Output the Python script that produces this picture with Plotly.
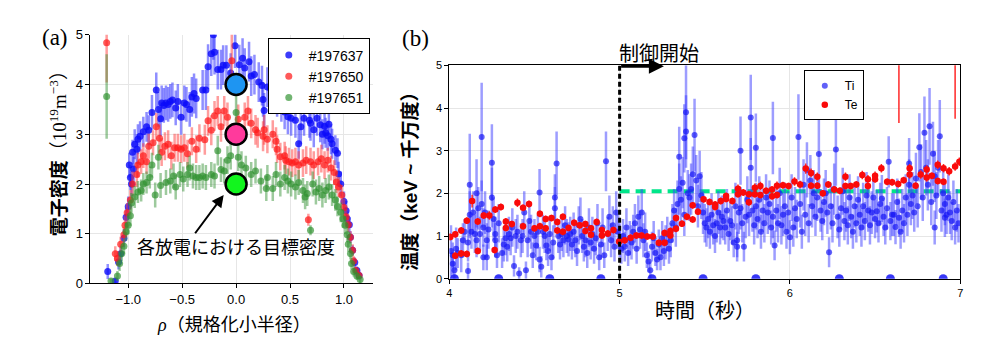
import plotly.graph_objects as go

# ---- (a) electron density profiles ----
rho_197637 = [-1.19, -1.12, -1.09, -1.07, -1.04, -1.02, -1.00, -0.99, -0.98, -0.97,
              -0.96, -0.95, -0.94, -0.92, -0.91, -0.89, -0.86, -0.83, -0.81, -0.78,
              -0.74, -0.72, -0.70, -0.69, -0.67, -0.65, -0.63, -0.61, -0.59, -0.56,
              -0.54, -0.51, -0.48, -0.46, -0.43, -0.41, -0.39, -0.37, -0.31, -0.28,
              -0.26, -0.23, -0.21, -0.20, -0.17, -0.14, -0.12, -0.09, -0.05, -0.01,
              0.03, 0.06, 0.08, 0.12, 0.14, 0.17, 0.21, 0.24, 0.25, 0.26,
              0.29, 0.32, 0.35, 0.38, 0.42, 0.45, 0.48, 0.51, 0.55, 0.58,
              0.60, 0.63, 0.68, 0.69, 0.72, 0.75, 0.78, 0.80, 0.82, 0.83,
              0.85, 0.86, 0.88, 0.89, 0.92, 0.94, 0.95, 0.97, 1.00, 1.02,
              1.03, 1.05, 1.06, 1.08, 1.10, 1.12, 1.14]
ne_197637 = [0.24, 0.05, 0.43, 0.60, 0.91, 1.33, 1.55, 2.38, 2.13, 2.00,
             2.64, 2.30, 2.80, 2.70, 2.90, 2.96, 3.05, 3.15, 3.08, 3.44,
             3.89, 3.50, 3.31, 3.63, 3.58, 3.63, 3.60, 3.66, 3.69, 3.53,
             3.66, 3.34, 3.63, 3.60, 3.50, 3.75, 3.82, 3.72, 3.89, 3.89,
             4.36, 4.62, 5.00, 4.65, 4.30, 4.30, 4.39, 4.39, 4.23, 4.78,
             4.40, 4.53, 4.33, 4.46, 4.17, 4.20, 4.05, 3.98, 3.70, 3.48,
             3.95, 3.92, 3.88, 3.70, 3.60, 3.45, 3.35, 3.32, 3.28, 2.81,
             3.15, 3.32, 3.28, 3.22, 3.09, 3.32, 3.19, 3.00, 3.16, 3.03,
             2.97, 3.20, 2.90, 2.81, 2.68, 2.62, 2.20, 2.00, 1.65, 1.46,
             1.30, 1.18, 0.93, 0.67, 0.42, 0.26, 0.16]
err_197637 = [0.15, 0.05, 0.15, 0.15, 0.18, 0.20, 0.20, 0.25, 0.25, 0.25,
              0.25, 0.25, 0.30, 0.30, 0.30, 0.30, 0.30, 0.30, 0.30, 0.35,
              0.35, 0.35, 0.35, 0.35, 0.35, 0.35, 0.35, 0.35, 0.35, 0.35,
              0.35, 0.35, 0.35, 0.35, 0.35, 0.40, 0.40, 0.40, 0.40, 0.40,
              0.45, 0.45, 0.50, 0.45, 0.40, 0.40, 0.40, 0.40, 0.40, 0.45,
              0.40, 0.40, 0.40, 0.40, 0.40, 0.40, 0.40, 0.40, 0.35, 0.35,
              0.40, 0.40, 0.40, 0.35, 0.35, 0.35, 0.35, 0.35, 0.35, 0.30,
              0.35, 0.35, 0.35, 0.35, 0.35, 0.35, 0.35, 0.30, 0.35, 0.30,
              0.30, 0.35, 0.30, 0.30, 0.30, 0.30, 0.25, 0.25, 0.20, 0.20,
              0.15, 0.15, 0.12, 0.10, 0.10, 0.08, 0.08]

rho_197650 = [-1.20, -1.12, -1.10, -1.07, -1.04, -1.03, -1.01, -0.98, -0.96, -0.92,
              -0.91, -0.88, -0.86, -0.83, -0.81, -0.77, -0.74, -0.71, -0.69, -0.66,
              -0.63, -0.60, -0.57, -0.54, -0.51, -0.48, -0.45, -0.41, -0.37, -0.34,
              -0.29, -0.26, -0.23, -0.20, -0.17, -0.14, -0.11, -0.08, -0.04, 0.02,
              0.08, 0.11, 0.14, 0.18, 0.20, 0.25, 0.26, 0.29, 0.34, 0.37,
              0.38, 0.41, 0.45, 0.46, 0.49, 0.52, 0.55, 0.58, 0.62, 0.65,
              0.67, 0.69, 0.72, 0.76, 0.79, 0.82, 0.85, 0.88, 0.91, 0.93,
              0.95, 0.98, 1.00, 1.02, 1.04, 1.06, 1.08, 1.09, 1.11, 1.14]
ne_197650 = [4.84, 0.60, 0.50, 0.79, 0.98, 1.17, 1.42, 1.68, 2.00, 2.19,
             2.38, 2.45, 2.57, 2.45, 2.76, 2.83, 3.15, 2.92, 2.64, 2.76,
             2.80, 2.57, 2.73, 2.73, 2.70, 2.73, 2.61, 2.86, 2.70, 2.92,
             2.89, 3.27, 3.08, 3.37, 3.47, 3.15, 3.47, 3.34, 4.48, 3.30,
             3.34, 3.47, 3.22, 3.09, 3.03, 2.96, 3.09, 2.90, 3.00, 2.86,
             2.70, 2.55, 2.57, 2.48, 2.45, 2.42, 2.45, 2.38, 2.42, 2.48,
             1.28, 2.45, 2.38, 2.45, 2.51, 2.38, 2.48, 2.32, 2.23, 2.04,
             1.94, 1.78, 1.53, 1.34, 1.18, 0.93, 0.67, 0.45, 0.26, 0.16]
err_197650 = [0.80, 0.15, 0.15, 0.15, 0.15, 0.18, 0.20, 0.20, 0.25, 0.25,
              0.25, 0.25, 0.25, 0.25, 0.25, 0.25, 0.28, 0.28, 0.28, 0.28,
              0.28, 0.28, 0.28, 0.28, 0.28, 0.28, 0.28, 0.28, 0.28, 0.28,
              0.30, 0.30, 0.30, 0.30, 0.30, 0.30, 0.30, 0.30, 0.60, 0.30,
              0.30, 0.30, 0.30, 0.30, 0.30, 0.30, 0.30, 0.28, 0.28, 0.28,
              0.28, 0.28, 0.28, 0.28, 0.28, 0.28, 0.28, 0.28, 0.28, 0.28,
              0.12, 0.28, 0.28, 0.28, 0.28, 0.28, 0.25, 0.25, 0.25, 0.22,
              0.20, 0.20, 0.18, 0.15, 0.15, 0.12, 0.12, 0.10, 0.08, 0.08]

rho_197651 = [-1.20, -1.16, -1.10, -1.08, -1.06, -1.04, -1.02, -1.00, -0.98, -0.97,
              -0.94, -0.91, -0.88, -0.86, -0.83, -0.80, -0.78, -0.75, -0.72, -0.70,
              -0.65, -0.61, -0.58, -0.56, -0.52, -0.49, -0.45, -0.43, -0.40, -0.37,
              -0.34, -0.31, -0.28, -0.23, -0.20, -0.17, -0.14, -0.11, -0.08, -0.05,
              0.00, 0.02, 0.05, 0.09, 0.14, 0.18, 0.23, 0.28, 0.29, 0.34,
              0.37, 0.41, 0.45, 0.48, 0.51, 0.55, 0.58, 0.62, 0.64, 0.66,
              0.69, 0.71, 0.74, 0.77, 0.80, 0.83, 0.86, 0.89, 0.92, 0.94,
              0.97, 0.99, 1.01, 1.03, 1.04, 1.06, 1.07, 1.09, 1.12, 1.15]
ne_197651 = [3.76, 0.05, 0.15, 0.40, 0.60, 0.75, 1.04, 1.17, 1.36, 1.62,
             1.74, 1.84, 1.87, 2.00, 2.03, 2.13, 2.38, 1.78, 2.54, 1.97,
             2.03, 2.06, 2.16, 1.94, 2.19, 2.10, 2.19, 2.32, 2.16, 2.13,
             2.13, 2.16, 2.13, 2.19, 2.16, 2.67, 2.29, 2.26, 2.48, 2.57,
             3.44, 2.54, 2.38, 2.32, 2.19, 2.26, 2.06, 1.91, 2.13, 1.91,
             2.19, 2.00, 2.13, 2.06, 2.00, 1.94, 2.03, 1.87, 1.74, 1.81,
             1.07, 2.00, 1.84, 1.91, 1.78, 1.87, 1.94, 1.78, 1.68, 1.55,
             1.43, 1.30, 1.17, 0.98, 0.79, 0.60, 0.40, 0.24, 0.15, 0.08]
err_197651 = [0.85, 0.05, 0.10, 0.15, 0.15, 0.15, 0.18, 0.18, 0.20, 0.20,
              0.22, 0.22, 0.22, 0.22, 0.22, 0.22, 0.25, 0.25, 0.25, 0.25,
              0.25, 0.25, 0.25, 0.25, 0.25, 0.25, 0.25, 0.25, 0.25, 0.25,
              0.25, 0.25, 0.25, 0.25, 0.25, 0.30, 0.25, 0.25, 0.28, 0.28,
              0.35, 0.28, 0.28, 0.25, 0.25, 0.25, 0.25, 0.25, 0.25, 0.25,
              0.25, 0.25, 0.25, 0.25, 0.25, 0.25, 0.25, 0.25, 0.25, 0.25,
              0.10, 0.25, 0.25, 0.25, 0.25, 0.25, 0.25, 0.22, 0.22, 0.20,
              0.20, 0.18, 0.18, 0.15, 0.15, 0.12, 0.12, 0.10, 0.08, 0.08]

target_rho = [0.0, 0.0, 0.0]
target_ne = [4.0, 3.0, 2.0]
target_colors = ["#1E95F2", "#FF3A9C", "#12F51E"]

# ---- (b) temperature time traces ----
ti_t = [4.01, 4.02, 4.02, 4.03, 4.04, 4.05, 4.07, 4.08, 4.09,
        4.11, 4.11, 4.12, 4.12, 4.13, 4.14, 4.15, 4.16, 4.16, 4.17, 4.18, 4.19, 4.19, 4.20, 4.20,
        4.21, 4.22, 4.22, 4.23, 4.25, 4.25, 4.26, 4.27, 4.27, 4.28, 4.29,
        4.31, 4.32, 4.33, 4.34, 4.35, 4.36, 4.37, 4.38, 4.39, 4.40,
        4.41, 4.42, 4.43, 4.44, 4.45, 4.46, 4.47, 4.48, 4.49, 4.50,
        4.51, 4.52, 4.53, 4.53, 4.54, 4.55, 4.56, 4.57, 4.58, 4.59, 4.60,
        4.61, 4.62, 4.62, 4.63, 4.64, 4.65, 4.66, 4.67, 4.68, 4.69, 4.70,
        4.71, 4.72, 4.73, 4.74, 4.75, 4.76, 4.77, 4.78, 4.79, 4.80,
        4.81, 4.82, 4.83, 4.84, 4.85, 4.86, 4.87, 4.88, 4.89, 4.90,
        4.91, 4.92, 4.93, 4.94, 4.95, 4.96, 4.97, 4.98, 4.99, 5.00,
        5.01, 5.02, 5.03, 5.04, 5.05, 5.06, 5.07, 5.08, 5.09, 5.10,
        5.11, 5.12, 5.13, 5.14, 5.15, 5.16, 5.17, 5.18, 5.19, 5.20,
        5.21, 5.22, 5.23, 5.24, 5.25, 5.26, 5.27, 5.28, 5.29, 5.30,
        5.31, 5.32, 5.33, 5.34, 5.35, 5.35, 5.36, 5.37, 5.38, 5.38, 5.39, 5.39, 5.40,
        5.41, 5.42, 5.43, 5.44, 5.45, 5.46, 5.47, 5.48, 5.49, 5.50,
        5.51, 5.52, 5.53, 5.54, 5.55, 5.56, 5.57, 5.58, 5.59, 5.60,
        5.61, 5.62, 5.63, 5.64, 5.65, 5.66, 5.67, 5.68, 5.69, 5.69, 5.70,
        5.71, 5.71, 5.72, 5.73, 5.74, 5.75, 5.76, 5.77, 5.77, 5.78, 5.79, 5.80, 5.80,
        5.81, 5.82, 5.83, 5.84, 5.85, 5.86, 5.87, 5.88, 5.89, 5.90, 5.90,
        5.91, 5.92, 5.93, 5.94, 5.95, 5.96, 5.97, 5.98, 5.99, 6.00,
        6.01, 6.02, 6.03, 6.04, 6.05, 6.06, 6.07, 6.08, 6.09, 6.10,
        6.11, 6.12, 6.13, 6.14, 6.15, 6.16, 6.17, 6.18, 6.19, 6.20,
        6.21, 6.22, 6.23, 6.24, 6.25, 6.26, 6.27, 6.28, 6.29, 6.30,
        6.31, 6.32, 6.33, 6.34, 6.35, 6.36, 6.37, 6.38, 6.39, 6.40,
        6.41, 6.42, 6.43, 6.44, 6.45, 6.46, 6.47, 6.48, 6.49, 6.50,
        6.51, 6.52, 6.53, 6.54, 6.55, 6.56, 6.57, 6.58, 6.59, 6.60,
        6.61, 6.62, 6.63, 6.64, 6.65, 6.66, 6.67, 6.68, 6.69, 6.70,
        6.70, 6.71, 6.72, 6.73, 6.74, 6.75, 6.76, 6.77, 6.78, 6.79, 6.80,
        6.81, 6.82, 6.83, 6.84, 6.85, 6.85, 6.86, 6.87, 6.88, 6.89, 6.90,
        6.91, 6.91, 6.92, 6.93, 6.94, 6.95, 6.96, 6.97, 6.98, 6.99]
ti_val = [0.65, 0.35, 0.55, 0.20, 0.70, 0.60, 0.55, 0.90, 1.10,
          0.18, 0.85, 2.20, 1.50, 1.10, 1.55, 1.05, 2.00, 0.90, 1.65, 1.05, 3.32, 1.75, 1.20, 0.50,
          1.55, 0.90, 0.50, 1.15, 2.72, 1.90, 1.40, 0.90, 1.05, 0.55, 1.30,
          0.60, 0.80, 0.95, 0.75, 1.05, 0.95, 1.20, 0.30, 1.00, 1.10,
          0.12, 0.90, 1.00, 1.55, 0.20, 0.90, 1.35, 1.10, 0.55, 1.00,
          0.78, 1.10, 2.02, 0.45, 0.28, 1.10, 1.00, 0.78, 0.65, 1.05, 0.50,
          0.85, 1.65, 1.90, 2.70, 1.00, 0.80, 1.05, 0.90, 1.25, 1.00, 0.92,
          1.05, 0.80, 1.10, 0.90, 0.65, 1.25, 1.40, 1.00, 0.75, 0.90,
          0.60, 1.20, 0.85, 1.05, 0.70, 0.95, 1.30, 0.50, 0.80, 1.20,
          0.55, 2.75, 1.05, 1.45, 0.90, 1.25, 0.75, 1.55, 1.10, 0.90,
          0.70, 1.00, 0.75, 1.20, 0.60, 0.95, 0.85, 1.10, 1.30, 0.70,
          1.45, 1.15, 1.55, 0.90, 1.10, 0.55, 0.40, 0.20, 0.75, 0.95,
          0.60, 0.45, 0.80, 0.50, 0.95, 0.65, 0.85, 1.05, 0.70, 0.90,
          1.30, 1.60, 1.20, 1.75, 2.10, 2.86, 1.85, 2.25, 3.29, 1.50, 3.90, 3.45, 2.00,
          1.90, 2.10, 2.45, 3.37, 2.30, 1.70, 2.40, 1.95, 1.55, 1.30,
          1.20, 1.40, 1.10, 1.50, 1.25, 1.00, 1.30, 1.55, 1.20, 1.45,
          1.35, 1.20, 1.60, 1.05, 1.35, 1.25, 0.85, 1.70, 0.75, 0.90, 1.55,
          3.00, 1.65, 1.30, 0.75, 1.45, 1.85, 1.50, 3.78, 2.60, 1.60, 1.25, 3.07, 1.70,
          1.40, 1.85, 1.10, 1.60, 1.30, 1.90, 1.55, 1.75, 1.20, 3.30, 1.45,
          0.78, 1.60, 1.30, 2.00, 1.25, 1.50, 1.70, 1.10, 1.55, 0.97,
          1.90, 1.20, 1.65, 1.40, 3.32, 1.75, 1.10, 2.20, 1.50, 2.55,
          1.30, 2.30, 1.70, 2.00, 1.45, 1.90, 2.92, 1.60, 1.35, 1.80,
          2.00, 1.55, 0.62, 1.70, 1.30, 2.10, 3.03, 1.45, 1.15, 1.65,
          2.05, 1.35, 1.60, 1.25, 1.90, 1.45, 1.10, 1.70, 1.30, 1.85,
          1.50, 1.20, 1.70, 1.35, 1.95, 1.60, 1.25, 1.55, 1.90, 1.40,
          1.58, 1.30, 1.75, 1.88, 1.45, 1.20, 1.65, 2.74, 1.35, 1.50,
          1.50, 1.21, 1.80, 1.43, 1.10, 1.60, 1.30, 1.90, 1.50, 2.20,
          2.70, 1.75, 1.95, 1.55, 2.35, 1.70, 3.08, 2.50, 1.90, 3.42, 2.60,
          2.20, 3.57, 1.80, 2.93, 2.40, 1.20, 1.95, 2.60, 3.34, 1.60, 2.00,
          1.75, 1.43, 1.50, 1.90, 1.55, 1.35, 1.80, 1.20, 1.60, 1.30]
ti_err = [0.60, 0.25, 0.30, 0.20, 0.50, 0.35, 0.40, 0.40, 0.30,
          0.20, 0.45, 1.20, 0.55, 0.40, 0.50, 0.45, 0.80, 0.40, 0.50, 0.40, 1.27, 0.55, 0.45, 0.30,
          0.50, 0.40, 0.30, 0.45, 0.90, 0.70, 0.50, 0.40, 0.40, 0.30, 0.45,
          0.35, 0.40, 0.40, 0.35, 0.40, 0.40, 0.45, 0.25, 0.40, 0.40,
          0.15, 0.40, 0.40, 0.50, 0.20, 0.40, 0.45, 0.40, 0.30, 0.40,
          0.35, 0.40, 0.55, 0.30, 0.25, 0.40, 0.40, 0.35, 0.35, 0.40, 0.30,
          0.40, 0.50, 0.55, 0.75, 0.40, 0.35, 0.40, 0.40, 0.45, 0.40, 0.40,
          0.40, 0.35, 0.45, 0.40, 0.35, 0.45, 0.50, 0.40, 0.35, 0.40,
          0.35, 0.45, 0.40, 0.40, 0.35, 0.40, 0.45, 0.30, 0.35, 0.45,
          0.30, 0.70, 0.40, 0.50, 0.40, 0.45, 0.35, 0.50, 0.40, 0.40,
          0.35, 0.40, 0.35, 0.45, 0.30, 0.40, 0.40, 0.40, 0.45, 0.35,
          0.50, 0.45, 0.55, 0.40, 0.45, 0.30, 0.25, 0.20, 0.35, 0.40,
          0.30, 0.25, 0.35, 0.30, 0.40, 0.35, 0.40, 0.40, 0.35, 0.40,
          0.45, 0.50, 0.45, 0.55, 0.60, 0.70, 0.55, 0.60, 0.80, 0.50, 1.10, 0.85, 0.55,
          0.55, 0.60, 0.65, 0.85, 0.60, 0.50, 0.60, 0.55, 0.50, 0.45,
          0.45, 0.45, 0.40, 0.50, 0.45, 0.40, 0.45, 0.50, 0.40, 0.50,
          0.45, 0.40, 0.50, 0.40, 0.45, 0.45, 0.35, 0.55, 0.35, 0.40, 0.50,
          0.80, 0.50, 0.45, 0.35, 0.50, 0.55, 0.50, 1.00, 0.70, 0.50, 0.45, 0.80, 0.55,
          0.45, 0.55, 0.40, 0.50, 0.45, 0.55, 0.50, 0.55, 0.40, 0.85, 0.50,
          0.35, 0.50, 0.45, 0.60, 0.45, 0.50, 0.55, 0.40, 0.50, 0.40,
          0.55, 0.45, 0.50, 0.45, 1.00, 0.55, 0.40, 0.60, 0.50, 0.65,
          0.45, 0.60, 0.50, 0.55, 0.45, 0.55, 0.85, 0.50, 0.45, 0.55,
          0.55, 0.50, 0.35, 0.55, 0.45, 0.60, 0.85, 0.50, 0.40, 0.50,
          0.55, 0.45, 0.50, 0.45, 0.55, 0.50, 0.40, 0.50, 0.45, 0.55,
          0.50, 0.45, 0.55, 0.45, 0.55, 0.50, 0.45, 0.50, 0.55, 0.45,
          0.50, 0.45, 0.50, 0.55, 0.45, 0.40, 0.50, 0.60, 0.45, 0.50,
          0.50, 0.40, 0.55, 0.45, 0.40, 0.50, 0.45, 0.55, 0.50, 0.60,
          0.60, 0.50, 0.55, 0.45, 0.60, 0.50, 0.80, 0.65, 0.55, 0.85, 0.65,
          0.60, 0.90, 0.55, 0.75, 0.60, 0.40, 0.55, 0.65, 0.85, 0.50, 0.55,
          0.50, 0.45, 0.45, 0.55, 0.50, 0.45, 0.50, 0.40, 0.50, 0.45]
# Ti channels that read zero
ti_zero_t = [4.03, 4.29, 4.59, 4.89, 5.19, 5.49, 5.80, 6.29, 6.59, 6.90]
ti_zero_val = [0.0, 0.0, 0.0, 0.0, 0.0, 0.0, 0.0, 0.0, 0.0, 0.0]

te_t = [4.006, 4.035, 4.035, 4.070, 4.070, 4.103, 4.103, 4.134, 4.167, 4.167,
        4.202, 4.235, 4.266, 4.270, 4.303, 4.332, 4.332, 4.367, 4.400, 4.433,
        4.433, 4.468, 4.500, 4.532, 4.532, 4.566, 4.566, 4.600, 4.634, 4.634,
        4.667, 4.667, 4.700, 4.733, 4.766, 4.799, 4.799, 4.832, 4.832, 4.865,
        4.896, 4.896, 4.931, 4.964, 4.997, 5.030, 5.065, 5.098, 5.129, 5.162,
        5.195, 5.230, 5.264, 5.264, 5.298, 5.298, 5.331, 5.331, 5.366, 5.395,
        5.429, 5.429, 5.460, 5.493, 5.528, 5.561, 5.561, 5.594, 5.625, 5.625,
        5.662, 5.695, 5.695, 5.726, 5.759, 5.759, 5.794, 5.794, 5.827, 5.827,
        5.860, 5.895, 5.895, 5.924, 5.924, 5.959, 5.992, 6.027, 6.060, 6.093,
        6.124, 6.124, 6.161, 6.161, 6.193, 6.225, 6.260, 6.293, 6.326, 6.326,
        6.357, 6.390, 6.425, 6.458, 6.458, 6.500, 6.500, 6.537, 6.571, 6.600,
        6.636, 6.640, 6.668, 6.703, 6.703, 6.738, 6.768, 6.803, 6.803, 6.833,
        6.868, 6.868, 6.902, 6.902, 6.935, 6.970, 6.970, 6.995]
te_val = [0.98, 0.54, 1.04, 0.59, 1.13, 0.58, 1.36, 1.82, 0.65, 1.34,
          1.48, 1.48, 0.67, 1.62, 1.68, 1.19, 1.34, 1.28, 1.78, 1.66,
          1.23, 1.75, 1.18, 1.23, 1.52, 1.40, 1.18, 1.42, 1.33, 1.13,
          1.45, 1.10, 1.19, 1.31, 1.25, 1.28, 1.12, 1.18, 1.03, 1.33,
          1.14, 1.01, 1.06, 1.14, 0.87, 0.90, 0.96, 1.01, 1.01, 0.99,
          0.99, 0.84, 0.84, 1.07, 1.12, 1.01, 1.17, 1.42, 1.29, 1.45,
          1.39, 1.72, 1.57, 1.86, 1.80, 1.74, 1.68, 1.82, 1.87, 1.94,
          1.82, 2.11, 1.98, 2.02, 1.98, 1.79, 2.13, 1.98, 2.17, 1.96,
          2.06, 2.09, 1.93, 2.18, 1.96, 2.19, 2.17, 2.28, 2.21, 2.58,
          2.48, 2.18, 2.39, 2.18, 2.00, 2.21, 2.09, 2.06, 2.39, 2.17,
          2.17, 2.21, 2.43, 2.33, 2.17, 2.41, 2.33, 2.59, 2.27, 2.26,
          2.22, 6.20, 2.31, 2.59, 2.44, 2.18, 2.44, 2.37, 2.56, 2.41,
          2.67, 2.29, 2.59, 2.27, 2.52, 2.63, 6.50, 2.74]
te_err = [0.08, 0.08, 0.08, 0.08, 0.08, 0.08, 0.08, 0.15, 0.08, 0.08,
          0.08, 0.10, 0.08, 0.08, 0.08, 0.08, 0.08, 0.08, 0.10, 0.08,
          0.08, 0.08, 0.08, 0.08, 0.08, 0.08, 0.08, 0.08, 0.08, 0.08,
          0.08, 0.08, 0.08, 0.08, 0.08, 0.08, 0.08, 0.08, 0.08, 0.08,
          0.08, 0.08, 0.08, 0.08, 0.08, 0.08, 0.08, 0.08, 0.08, 0.08,
          0.08, 0.08, 0.08, 0.08, 0.08, 0.08, 0.08, 0.08, 0.08, 0.08,
          0.08, 0.08, 0.08, 0.08, 0.08, 0.08, 0.08, 0.08, 0.08, 0.08,
          0.08, 0.10, 0.08, 0.08, 0.08, 0.08, 0.10, 0.08, 0.10, 0.08,
          0.08, 0.08, 0.08, 0.10, 0.08, 0.08, 0.08, 0.10, 0.08, 0.12,
          0.10, 0.08, 0.10, 0.08, 0.08, 0.08, 0.08, 0.08, 0.10, 0.08,
          0.08, 0.08, 0.10, 0.10, 0.08, 0.10, 0.08, 0.10, 0.08, 0.08,
          0.08, 2.55, 0.08, 0.10, 0.10, 0.08, 0.10, 0.10, 0.10, 0.08,
          0.10, 0.08, 0.10, 0.08, 0.10, 0.10, 2.75, 0.10]

ctrl_start = 5.0      # 制御開始 time [s]
te_target = 2.05      # target Te [keV]

SANS = "Liberation Sans, Noto Sans CJK JP, sans-serif"
CJK = "Noto Sans CJK JP, sans-serif"
SERIF = "Liberation Serif, serif"

fig = go.Figure()

left_series = [
    ("#197637", rho_197637, ne_197637, err_197637, "rgba(10,10,250,0.8)", "rgba(50,50,255,0.55)"),
    ("#197650", rho_197650, ne_197650, err_197650, "rgba(255,25,25,0.72)", "rgba(255,60,60,0.5)"),
    ("#197651", rho_197651, ne_197651, err_197651, "rgba(45,145,45,0.68)", "rgba(60,150,60,0.5)"),
]
for name, x, y, e, mcol, ecol in left_series:
    fig.add_trace(go.Scatter(
        x=x, y=y, mode="markers", name=name, xaxis="x", yaxis="y",
        marker=dict(size=7, color=mcol),
        error_y=dict(type="data", array=e, color=ecol, thickness=2.5, width=0),
        legend="legend",
    ))

fig.add_trace(go.Scatter(
    x=target_rho, y=target_ne, mode="markers", showlegend=False,
    xaxis="x", yaxis="y",
    marker=dict(size=21, color=target_colors, line=dict(color="black", width=2.5)),
))

TI_COLOR = "rgba(20,20,245,0.68)"
fig.add_trace(go.Scatter(
    x=ti_t, y=ti_val, mode="markers", name="Ti", xaxis="x2", yaxis="y2",
    marker=dict(size=6, color=TI_COLOR),
    error_y=dict(type="data", array=ti_err, color="rgba(60,60,255,0.5)", thickness=2.5, width=0),
    legend="legend2",
))
fig.add_trace(go.Scatter(
    x=ti_zero_t, y=ti_zero_val, mode="markers", showlegend=False, xaxis="x2", yaxis="y2",
    marker=dict(size=9, color="rgba(20,20,245,0.85)"),
))
fig.add_trace(go.Scatter(
    x=te_t, y=te_val, mode="markers", name="Te", xaxis="x2", yaxis="y2",
    marker=dict(size=6.5, color="rgb(250,10,10)"),
    error_y=dict(type="data", array=te_err, color="rgb(255,40,40)", thickness=1.5, width=0),
    legend="legend2",
))

axis_common = dict(
    showline=True, linecolor="black", linewidth=1, ticks="outside", ticklen=4,
    tickcolor="black", showgrid=True, gridcolor="#e6e6e6", gridwidth=1, zeroline=False,
)
fig.update_layout(
    width=1000, height=346,
    margin=dict(l=0, r=0, t=0, b=0),
    paper_bgcolor="white", plot_bgcolor="white",
    font=dict(family=SANS, color="black"),
    xaxis=dict(domain=[0.088, 0.372], range=[-1.35, 1.267], dtick=0.5, tick0=0,
               tickformat=".1f", tickfont=dict(size=13), anchor="y", **axis_common),
    yaxis=dict(domain=[0.1647, 0.916], range=[0, 5], dtick=1,
               tickfont=dict(size=13), anchor="x", **axis_common),
    xaxis2=dict(domain=[0.449, 0.963], range=[4, 7], dtick=1, mirror=True,
                tickfont=dict(size=11), anchor="y2", **axis_common),
    yaxis2=dict(domain=[0.1792, 0.8237], range=[0, 5], dtick=1, mirror=True,
                tickfont=dict(size=11), anchor="x2", **axis_common),
    legend=dict(x=0.369, xanchor="right", y=0.905, yanchor="top",
                bordercolor="black", borderwidth=1, bgcolor="white",
                font=dict(size=14, family=SANS), tracegroupgap=4),
    legend2=dict(x=0.866, xanchor="right", y=0.809, yanchor="top",
                 bordercolor="black", borderwidth=1, bgcolor="white",
                 font=dict(size=12, family=SANS), itemwidth=30, tracegroupgap=0),
)

fig.add_shape(type="line", xref="x2", yref="y2", x0=ctrl_start, x1=7.0,
              y0=te_target, y1=te_target, layer="between",
              line=dict(color="#00E68A", width=4, dash="10px,6px"))
fig.add_shape(type="line", xref="x2", yref="y2", x0=ctrl_start, x1=ctrl_start,
              y0=0, y1=5, line=dict(color="black", width=3, dash="5px,3px"))

annotations = [
    dict(text="(a)", x=0.052, y=0.9075, font=dict(family=SERIF, size=23)),
    dict(text="(b)", x=0.415, y=0.9046, font=dict(family=SERIF, size=23)),
    dict(text="<b>電子密度</b>（<span style='font-family:Liberation Serif'>10<sup>19</sup>m<sup>−3</sup></span>）",
         x=0.055, y=0.572, textangle=-90, font=dict(family=CJK, size=19)),
    dict(text="<b>温度（keV ~ 千万度）</b>", x=0.410, y=0.4855, textangle=-90,
         font=dict(family=SANS, size=19)),
    dict(text="<i><span style='font-family:Liberation Serif'>ρ</span></i>（規格化小半径）",
         x=0.232, y=0.046, font=dict(family=CJK, size=18)),
    dict(text="時間（秒）", x=0.706, y=0.0867, font=dict(family=CJK, size=20)),
    dict(text="制御開始", x=0.660, y=0.864, font=dict(family=CJK, size=20)),
]
for a in annotations:
    fig.add_annotation(xref="paper", yref="paper", showarrow=False,
                       xanchor="center", yanchor="middle", **a)

fig.add_annotation(text="各放電における目標密度", xref="x", yref="y", x=0.0, y=0.75,
                   showarrow=False, font=dict(family=CJK, size=18))
fig.add_annotation(text="", xref="x", yref="y", x=-0.115, y=1.78,
                   axref="x", ayref="y", ax=-0.39, ay=0.98,
                   showarrow=True, arrowhead=2, arrowsize=1.2, arrowwidth=2, arrowcolor="black")
fig.add_annotation(text="", xref="x2", yref="y2", x=5.26, y=4.98,
                   axref="x2", ayref="y2", ax=ctrl_start, ay=4.98,
                   showarrow=True, arrowhead=2, arrowsize=1, arrowwidth=3, arrowcolor="black")

# the page's default body margin would shift the fixed-size figure
fig.write_html("out.html", config={"displayModeBar": False},
               post_script="document.body.style.margin='0';")
